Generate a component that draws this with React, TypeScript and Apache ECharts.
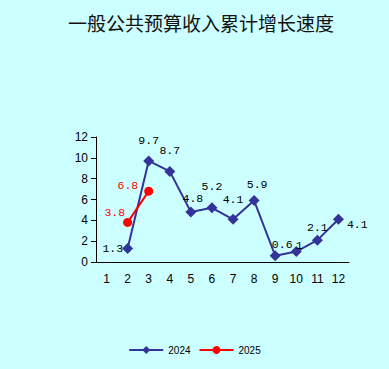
import React, { useEffect, useRef } from "react";
import * as echarts from "echarts";

const categories = ["1", "2", "3", "4", "5", "6", "7", "8", "9", "10", "11", "12"];
const values2024: (number | null)[] = [null, 1.3, 9.7, 8.7, 4.8, 5.2, 4.1, 5.9, 0.6, 1, 2.1, 4.1];
const values2025: (number | null)[] = [null, 3.8, 6.8, null, null, null, null, null, null, null, null, null];
const labelPos2024 = ["top", "left", "top", "top", "top", "top", "top", "top", "top", "top", "top", "right"];
const labelOff2024: [number, number][] = [[0, 0], [7, 0], [0, -3], [0, -3], [2, 4], [0, -4], [0, -2], [3, 1], [7, 6], [3, 11], [0, 5], [-3, 5]];
const labelOff2025: [number, number][] = [[0, 0], [8, -10], [0, -6]];
const yTicks = [0, 2, 4, 6, 8, 10, 12];

export default function App() {
  const ref = useRef<HTMLDivElement>(null);
  useEffect(() => {
    const chart = echarts.init(ref.current!, null, { renderer: "svg" });
    const mono = "Liberation Mono";
    chart.setOption({
      animation: false,
      backgroundColor: "#ccffff",
      title: {
        text: "一般公共预算收入累计增长速度",
        left: 63,
        top: 8,
        textStyle: { fontFamily: "Noto Sans CJK SC", fontSize: 19, fontWeight: "normal", color: "#111" },
      },
      legend: {
        bottom: 9,
        left: "center",
        itemWidth: 34,
        itemHeight: 10,
        itemGap: 8,
        textStyle: { fontFamily: "Liberation Sans", fontSize: 10, color: "#000" },
        data: ["2024", "2025"],
      },
      grid: { left: 96, right: 40, top: 137, bottom: 107 },
      xAxis: {
        type: "category",
        data: categories,
        boundaryGap: true,
        axisLine: { lineStyle: { color: "#000", width: 1 } },
        axisTick: { inside: true, length: 4, lineStyle: { color: "#000" } },
        axisLabel: { color: "#000", fontFamily: "Liberation Sans", fontSize: 12, margin: 11 },
      },
      yAxis: {
        type: "value",
        min: yTicks[0],
        max: yTicks[yTicks.length - 1],
        interval: 2,
        splitLine: { show: false },
        axisLine: { show: true, lineStyle: { color: "#000", width: 1 } },
        axisTick: { show: true, length: 5, lineStyle: { color: "#000" } },
        axisLabel: { color: "#000", fontFamily: "Liberation Sans", fontSize: 12, margin: 8 },
      },
      series: [
        {
          name: "2024",
          type: "line",
          data: values2024.map((v, i) => ({
            value: v,
            label: { position: labelPos2024[i] as any, offset: labelOff2024[i] },
          })),
          symbol: "diamond",
          symbolSize: 11,
          lineStyle: { color: "#333399", width: 2 },
          itemStyle: { color: "#333399" },
          label: {
            show: true,
            color: "#000",
            fontFamily: mono,
            fontSize: 11.5,
            distance: 6,
          },
        },
        {
          name: "2025",
          type: "line",
          data: values2025.map((v, i) => ({
            value: v,
            label: { offset: labelOff2025[i] || [0, 0] },
          })),
          symbol: "circle",
          symbolSize: 9,
          lineStyle: { color: "#ff0000", width: 2 },
          itemStyle: { color: "#ff0000" },
          label: {
            show: true,
            position: "left",
            color: "#ff0000",
            fontFamily: mono,
            fontSize: 11.5,
            distance: 6,
          },
        },
      ],
    });
    return () => chart.dispose();
  }, []);
  return <div ref={ref} style={{ width: 389, height: 369, position: "absolute", left: 0, top: 0 }} />;
}
